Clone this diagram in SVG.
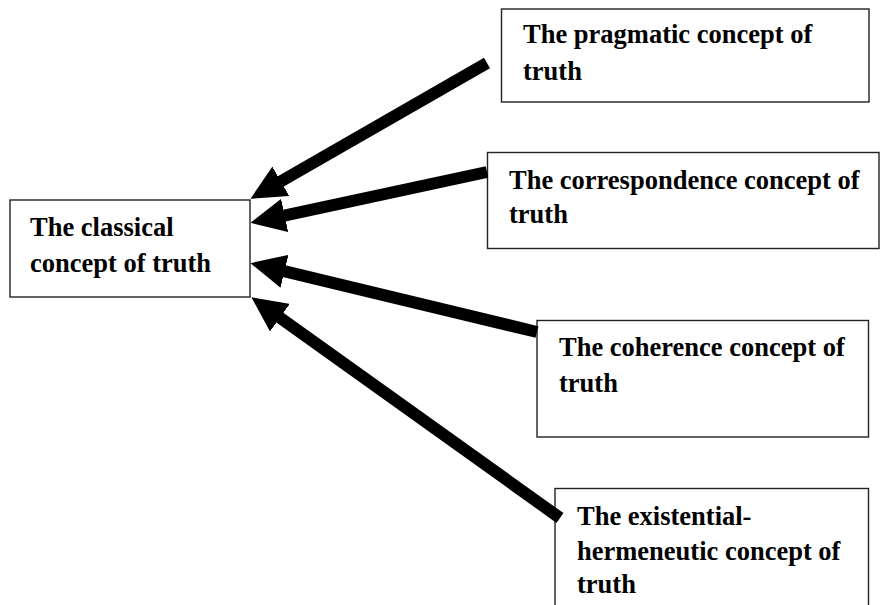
<svg xmlns="http://www.w3.org/2000/svg" width="880" height="605" viewBox="0 0 880 605">
  <style>
    .box { fill: #ffffff; stroke: #222222; stroke-width: 1.4; }
    .lbl { font-family: "Liberation Serif", "Times New Roman", serif; font-weight: bold; font-size: 26.5px; fill: #000000; }
    .conn { stroke: #000000; stroke-width: 12; fill: none; marker-end: url(#head); }
  </style>
  <defs>
    <marker id="head" markerUnits="userSpaceOnUse" viewBox="0 0 35 34" markerWidth="35" markerHeight="34" refX="0.5" refY="17" orient="auto">
      <path d="M0,0 L35,17 L0,34 Z" fill="#000000"/>
    </marker>
  </defs>
  <rect width="880" height="605" fill="#ffffff"/>

  <g id="classical">
    <rect class="box" x="10" y="200" width="240" height="97"/>
    <text class="lbl" x="30" y="236">The classical</text>
    <text class="lbl" x="30" y="272">concept of truth</text>
  </g>

  <g id="pragmatic">
    <rect class="box" x="501.5" y="9" width="367.5" height="93"/>
    <text class="lbl" x="523" y="43">The pragmatic concept of</text>
    <text class="lbl" x="523" y="80">truth</text>
  </g>

  <g id="correspondence">
    <rect class="box" x="487.5" y="152.5" width="391.5" height="96"/>
    <text class="lbl" x="509" y="188.5">The correspondence concept of</text>
    <text class="lbl" x="509" y="222.5">truth</text>
  </g>

  <g id="coherence">
    <rect class="box" x="537" y="320.5" width="331.5" height="116.5"/>
    <text class="lbl" x="559" y="355.5">The coherence concept of</text>
    <text class="lbl" x="559" y="391.5">truth</text>
  </g>

  <g id="existential">
    <rect class="box" x="555" y="488.5" width="313.5" height="130"/>
    <text class="lbl" x="577" y="525">The existential-</text>
    <text class="lbl" x="577" y="560">hermeneutic concept of</text>
    <text class="lbl" x="577" y="593">truth</text>
  </g>

  <g id="connectors">
    <line class="conn" x1="487" y1="63" x2="280.4" y2="181.6"/>
    <line class="conn" x1="487" y1="172" x2="284.2" y2="215.6"/>
    <line class="conn" x1="537" y1="332" x2="284.0" y2="271.2"/>
    <line class="conn" x1="560" y1="518" x2="279.5" y2="317.4"/>
  </g>
</svg>
